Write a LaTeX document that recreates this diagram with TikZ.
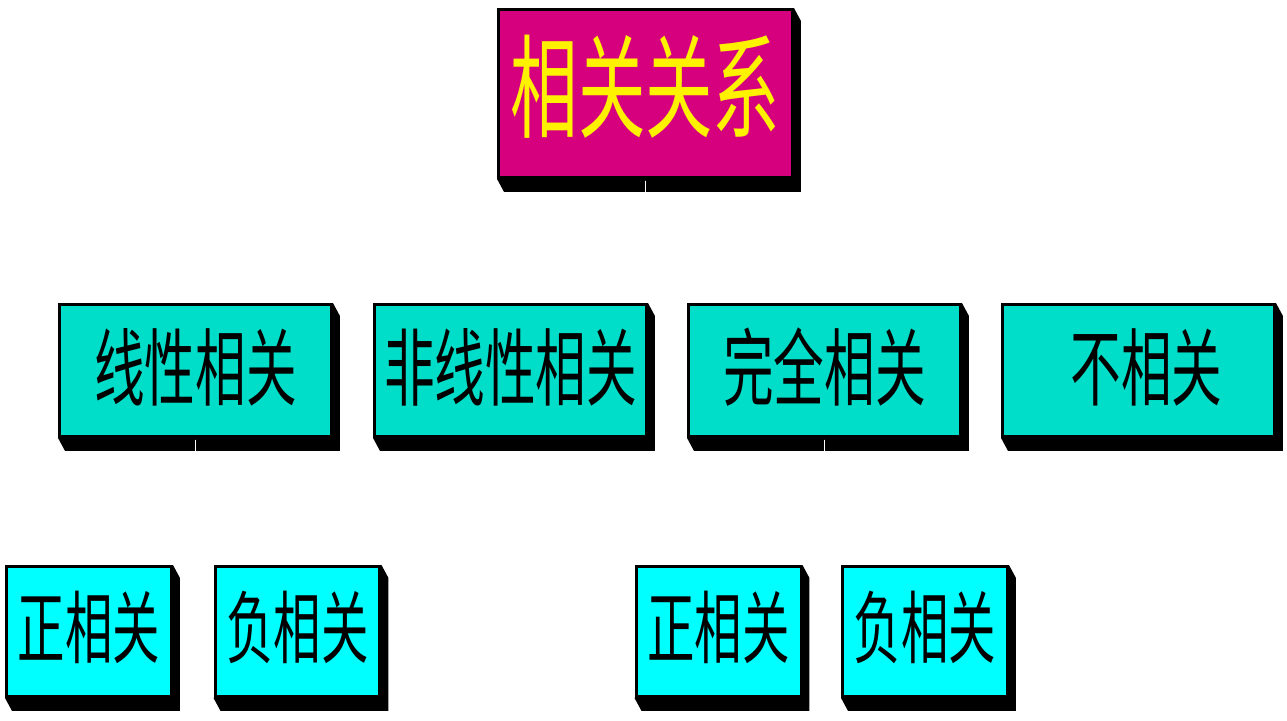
\documentclass[tikz,border=0pt]{standalone}
\usepackage{fontspec}
\usetikzlibrary{calc}
\newfontfamily\cjk[FakeStretch=0.6]{Noto Sans CJK SC}
\definecolor{relmag}{HTML}{D6007F}
\definecolor{midteal}{HTML}{00DDC8}
\definecolor{lowcyan}{HTML}{00FFFF}
\pgfdeclarelayer{background}
\pgfsetlayers{background,main}
\tikzset{
  box/.style={draw=black,line width=1.7pt,inner sep=0pt,align=center},
  topbox/.style={box,fill=relmag,text=yellow,minimum width=5.88cm,minimum height=3.36cm,
    text height=50.6pt,text depth=10pt,font=\cjk\fontsize{64}{64}\selectfont},
  midbox/.style={box,fill=midteal,minimum width=5.44cm,minimum height=2.64cm,
    text height=41pt,text depth=8pt,font=\cjk\fontsize{48}{48}\selectfont},
  lowbox/.style={box,fill=lowcyan,minimum width=3.3cm,minimum height=2.6cm,
    text height=37.6pt,text depth=8pt,font=\cjk\fontsize{45}{45}\selectfont},
  link/.style={white,line width=1.1pt,shorten <=1pt,shorten >=1pt}
}
\begin{document}
\begin{tikzpicture}[x=0.02cm,y=-0.02cm]
  \useasboundingbox (0,0) rectangle (1287,720);
  \node[topbox] (rel) at (645.5,93.5) {相关关系};
  \node[midbox] (lin) at (195.5,370.5) {线性相关};
  \node[midbox] (non) at (510.5,370.5) {非线性相关};
  \node[midbox] (full) at (824.5,370.5) {完全相关};
  \node[midbox] (none) at (1138.5,370.5) {\hspace*{0.32cm}不相关};
  \node[lowbox] (pa) at (89,631.5) {正相关};
  \node[lowbox] (na) at (297.5,631.5) {负相关};
  \node[lowbox] (pb) at (718.5,631.5) {正相关};
  \node[lowbox] (nb) at (925,631.5) {负相关};
  % extruded shadows
  \begin{pgfonlayer}{background}
    \foreach \n in {rel,lin,non,full,none,pa,na,pb,nb} {
      \fill[black] (\n.north east) -- ++(7,13) |- ($(\n.south west)+(7,13)$) -- (\n.south west) -- cycle;
    }
  \end{pgfonlayer}
  % connectors (white)
  \foreach \c in {lin,non,full,none}
    \draw[link] (rel.south) -- ++(0,60) -| (\c.north);
  \foreach \c in {pa,na}
    \draw[link] (lin.south) -- ++(0,55) -| (\c.north);
  \foreach \c in {pb,nb}
    \draw[link] (full.south) -- ++(0,55) -| (\c.north);
\end{tikzpicture}
\end{document}
